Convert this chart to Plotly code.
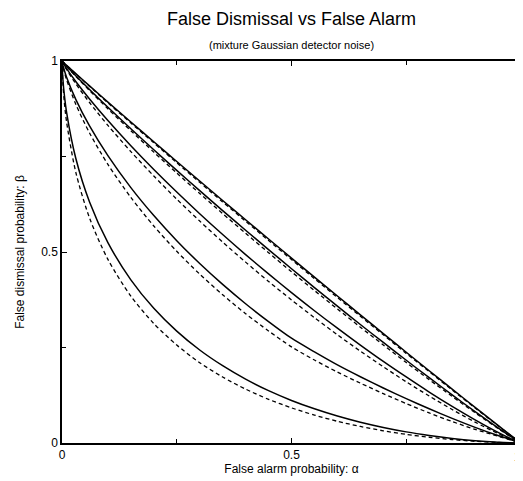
import plotly.graph_objects as go

# False alarm probability grid (alpha)
alpha = [0, 0.002, 0.005, 0.01, 0.03, 0.06, 0.1, 0.15, 0.2, 0.25, 0.3, 0.35, 0.4,
         0.45, 0.5, 0.55, 0.6, 0.65, 0.7, 0.75, 0.8, 0.85, 0.9, 0.95, 0.98, 1]

# False dismissal probability (beta), solid / dashed pairs
beta_a_solid = [1, 0.9977, 0.9944, 0.9889, 0.9671, 0.935, 0.8925, 0.8404, 0.7886, 0.7368,
                0.6859, 0.6349, 0.5844, 0.5341, 0.484, 0.4342, 0.3847, 0.3355, 0.2865,
                0.2376, 0.1892, 0.1411, 0.0933, 0.0461, 0.0181, 0]
beta_a_dash = [1, 0.9977, 0.9942, 0.9887, 0.9664, 0.9336, 0.8904, 0.8377, 0.7857, 0.7336,
               0.6823, 0.6311, 0.5805, 0.5301, 0.4801, 0.4303, 0.3808, 0.3319, 0.2831,
               0.2346, 0.1867, 0.1388, 0.0917, 0.0452, 0.0177, 0]
beta_b_solid = [1, 0.9972, 0.9932, 0.9866, 0.9616, 0.9255, 0.879, 0.8226, 0.7675, 0.7136,
                0.6606, 0.6084, 0.5569, 0.5063, 0.4562, 0.4069, 0.3584, 0.3102, 0.2632,
                0.2166, 0.171, 0.1261, 0.0821, 0.0398, 0.0152, 0]
beta_b_dash = [1, 0.997, 0.9928, 0.9859, 0.9598, 0.9227, 0.8749, 0.8175, 0.7615, 0.7067,
               0.6533, 0.6006, 0.549, 0.4983, 0.4483, 0.3992, 0.3509, 0.3033, 0.2567,
               0.2106, 0.1659, 0.122, 0.0792, 0.0381, 0.0145, 0]
beta_c_solid = [1, 0.9954, 0.9894, 0.9799, 0.9463, 0.9005, 0.844, 0.778, 0.716, 0.657,
                0.6003, 0.5458, 0.4933, 0.4427, 0.3937, 0.3462, 0.3005, 0.2564, 0.2136,
                0.1728, 0.1333, 0.0958, 0.0606, 0.0278, 0.0101, 0]
beta_c_dash = [1, 0.9947, 0.988, 0.9775, 0.9405, 0.8913, 0.8315, 0.7629, 0.6989, 0.6383,
               0.581, 0.526, 0.4735, 0.423, 0.3746, 0.3281, 0.2834, 0.2404, 0.1996,
               0.1601, 0.123, 0.0878, 0.0546, 0.0249, 0.0088, 0]
beta_d_solid = [1, 0.9886, 0.9759, 0.9577, 0.8997, 0.8299, 0.7521, 0.6685, 0.5954, 0.5297,
                0.4699, 0.4152, 0.3646, 0.3178, 0.2743, 0.2385, 0.2045, 0.1735, 0.144,
                0.116, 0.0895, 0.0645, 0.041, 0.0195, 0.008, 0]
beta_d_dash = [1, 0.9864, 0.9717, 0.9509, 0.8869, 0.8117, 0.7294, 0.6428, 0.5681, 0.5018,
               0.4422, 0.388, 0.3386, 0.2933, 0.2517, 0.2172, 0.1857, 0.1567, 0.1292,
               0.1032, 0.0787, 0.0562, 0.0357, 0.0177, 0.007, 0]
beta_e_solid = [1, 0.9513, 0.9122, 0.8655, 0.7454, 0.631, 0.5245, 0.4272, 0.3527, 0.2929,
                0.2434, 0.2023, 0.1672, 0.137, 0.1114, 0.0895, 0.0705, 0.0543, 0.0407,
                0.0291, 0.0198, 0.0121, 0.0062, 0.0021, 0.0005, 0]
beta_e_dash = [1, 0.9391, 0.8933, 0.8404, 0.7089, 0.589, 0.4807, 0.3846, 0.3127, 0.2564,
               0.2103, 0.1727, 0.1411, 0.1143, 0.092, 0.073, 0.0568, 0.0433, 0.032,
               0.0226, 0.015, 0.009, 0.0045, 0.0015, 0.0003, 0]

solid_series = [beta_a_solid, beta_b_solid, beta_c_solid, beta_d_solid, beta_e_solid]
dash_series = [beta_a_dash, beta_b_dash, beta_c_dash, beta_d_dash, beta_e_dash]

x_ticks = [0, 0.5, 1]
x_tick_labels = ["0", "0.5", "1"]
y_ticks = [0, 0.5, 1]
y_tick_labels = ["0", "0.5", "1"]

FONT = "Liberation Sans, Arial, Helvetica, sans-serif"

fig = go.Figure()
for ys in dash_series:
    fig.add_trace(go.Scatter(x=alpha, y=ys, mode="lines",
                             line=dict(color="black", width=1.3, dash="4px,3px",
                                       shape="spline", smoothing=0.8),
                             showlegend=False, hoverinfo="skip"))
for ys in solid_series:
    fig.add_trace(go.Scatter(x=alpha, y=ys, mode="lines",
                             line=dict(color="black", width=1.5,
                                       shape="spline", smoothing=0.8),
                             showlegend=False, hoverinfo="skip"))

axis_common = dict(
    range=[0, 1], showgrid=False, zeroline=False, automargin=False,
    showline=True, linecolor="black", linewidth=1.5, mirror="allticks",
    ticks="inside", ticklen=5, tickwidth=1, tickcolor="black",
    tickfont=dict(family=FONT, size=12, color="black"),
    minor=dict(ticks="inside", ticklen=4, tickwidth=1, tickcolor="black",
               tickvals=[0.25, 0.75]),
)

# The last x tick label sits on the window edge; it is drawn as an
# annotation at the same tick position, kept just inside the window.
x_axis_text = x_tick_labels[:-1] + [""]
edge_labels = [
    dict(text=x_tick_labels[-1], x=x_ticks[-1], xref="x", y=0, yref="paper",
         yshift=-14, xshift=2, xanchor="right", yanchor="middle", showarrow=False,
         font=dict(family=FONT, size=12, color="black")),
]

# The page body has an 8px margin, so the figure is sized to fill the
# remaining part of the 523x481 window.
fig.update_layout(
    width=515, height=473,
    margin=dict(l=54, r=2, t=53, b=38),
    paper_bgcolor="white", plot_bgcolor="white",
    font=dict(family=FONT, color="black"),
    xaxis=dict(**axis_common, tickvals=x_ticks, ticktext=x_axis_text,
               title=dict(text="False alarm probability: α",
                          font=dict(family=FONT, size=12), standoff=0)),
    yaxis=dict(**axis_common, tickvals=y_ticks, ticktext=y_tick_labels,
               title=dict(text="False dismissal probability: β",
                          font=dict(family=FONT, size=12), standoff=14)),
    annotations=[
        dict(text="False Dismissal vs False Alarm", xref="paper", yref="paper",
             x=0.5, y=1, yshift=42, xanchor="center", yanchor="middle",
             showarrow=False, font=dict(family=FONT, size=18, color="black")),
        dict(text="(mixture Gaussian detector noise)", xref="paper", yref="paper",
             x=0.5, y=1, yshift=16, xanchor="center", yanchor="middle",
             showarrow=False, font=dict(family=FONT, size=11, color="black")),
    ] + edge_labels,
)

fig.write_html("out.html")
